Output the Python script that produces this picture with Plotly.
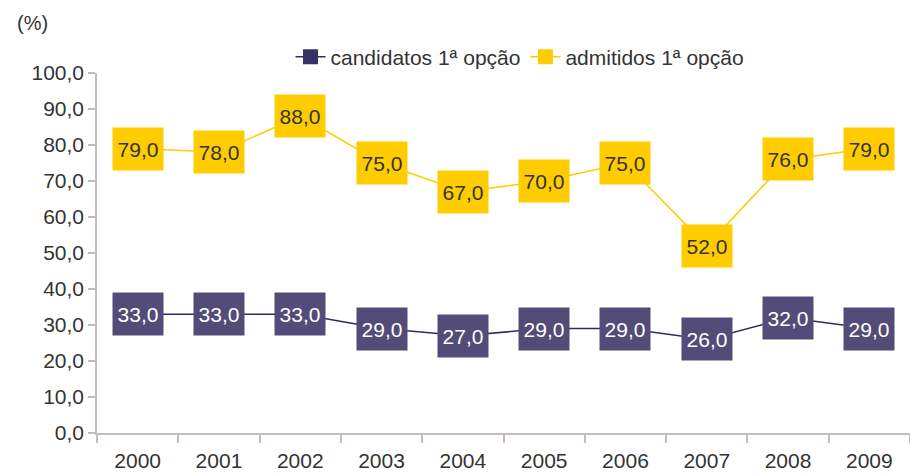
import plotly.graph_objects as go

anos = ["2000", "2001", "2002", "2003", "2004", "2005", "2006", "2007", "2008", "2009"]
candidatos = [33.0, 33.0, 33.0, 29.0, 27.0, 29.0, 29.0, 26.0, 32.0, 29.0]
admitidos = [79.0, 78.0, 88.0, 75.0, 67.0, 70.0, 75.0, 52.0, 76.0, 79.0]

FONT = "Liberation Sans, Arial, sans-serif"
ROXO = "#544C78"
ROXO_LINHA = "#2E2C5E"
AMARELO = "#FFCC00"
TXT = "#333333"

fig = go.Figure()
fig.add_trace(go.Scatter(
    x=anos, y=candidatos, name="candidatos 1ª opção",
    mode="lines+markers",
    line=dict(color=ROXO_LINHA, width=1.5),
    marker=dict(symbol="square", size=15, color="#333366"),
))
fig.add_trace(go.Scatter(
    x=anos, y=admitidos, name="admitidos 1ª opção",
    mode="lines+markers",
    line=dict(color=AMARELO, width=1.5),
    marker=dict(symbol="square", size=15, color=AMARELO),
))

# rótulos de dados em caixas (x = índice da categoria)
for serie, cor_fundo, cor_texto in [(candidatos, ROXO, "white"), (admitidos, AMARELO, TXT)]:
    for i, v in enumerate(serie):
        fig.add_annotation(
            x=i, y=v, xref="x", yref="y", text=f"{v:.1f}".replace(".", ","),
            showarrow=False, bgcolor=cor_fundo, width=50, height=42,
            borderpad=0, font=dict(family=FONT, size=21, color=cor_texto),
        )

# plot area: x 89..902, y 65..428 (figure px)
fig.add_annotation(
    xref="paper", yref="paper", x=(7 - 89) / 813, y=1 + (65 - 15) / 363,
    xanchor="left", yanchor="middle", text="(%)", showarrow=False,
    font=dict(family=FONT, size=20, color=TXT),
)

fig.update_layout(
    width=918, height=476,
    margin=dict(l=89, r=16, t=65, b=48),
    paper_bgcolor="white", plot_bgcolor="white",
    separators=",.",
    font=dict(family=FONT, size=21, color=TXT),
    showlegend=True,
    legend=dict(orientation="h", x=(512 - 89) / 813, xanchor="center",
                y=1 + (65 - 49) / 363, yanchor="middle",
                font=dict(family=FONT, size=21, color=TXT),
                bgcolor="rgba(0,0,0,0)", tracegroupgap=0),
    xaxis=dict(
        type="category", range=[-0.5, 9.5], showgrid=False,
        showline=True, linecolor="#C4BCBC", linewidth=1.5,
        ticks="outside", tickson="boundaries", ticklen=8, tickcolor="#C4BCBC", tickwidth=1.5,
        ticklabelstandoff=8,
        tickfont=dict(family=FONT, size=21, color=TXT),
    ),
    yaxis=dict(
        range=[0, 100], dtick=10, tickformat=".1f", showgrid=False, zeroline=False,
        showline=True, linecolor="#C4BCBC", linewidth=1.5,
        ticks="outside", ticklen=7, tickcolor="#C4BCBC", tickwidth=1.5,
        tickfont=dict(family=FONT, size=21, color=TXT),
    ),
)

fig.write_html("out.html")
